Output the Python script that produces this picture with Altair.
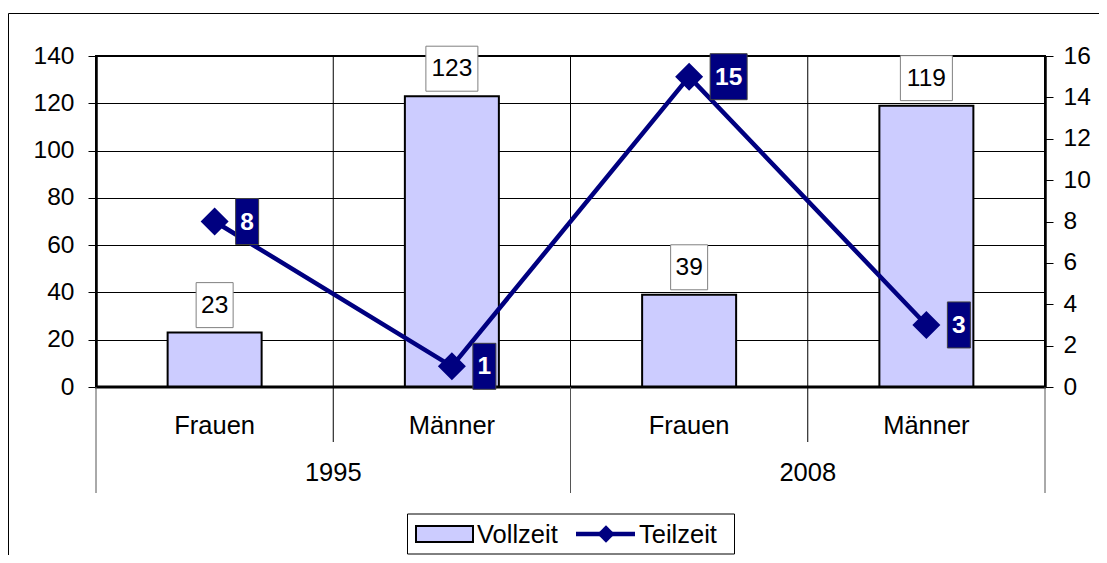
import altair as alt
import pandas as pd

# ---- data ----
categories = ["Frauen", "Männer", "Frauen", "Männer"]
years = ["1995", "1995", "2008", "2008"]
vollzeit = [23, 123, 39, 119]
teilzeit = [8, 1, 15, 3]
year_labels = ["1995", "2008"]
legend_labels = ["Vollzeit", "Teilzeit"]

FONT = "Liberation Sans"
NAVY = "#000080"
BARFILL = "#CCCCFF"
W, H = 949, 331

df = pd.DataFrame({
    "cat": categories,
    "year": years,
    "pos": [i + 0.5 for i in range(len(categories))],
    "vollzeit": vollzeit,
    "teilzeit": teilzeit,
})
df["v_lab"] = df["vollzeit"].astype(str)
df["t_lab"] = df["teilzeit"].astype(str)

years_df = pd.DataFrame({"year": year_labels, "pos": [2 * i + 1 for i in range(len(year_labels))]})
minor_sep = pd.DataFrame({"pos": [2 * i + 1 for i in range(len(year_labels))]})
major_sep = pd.DataFrame({"pos": [2 * i for i in range(len(year_labels) + 1)]})
inner_grid = pd.DataFrame({"pos": list(range(1, len(categories)))})
leg_df = pd.DataFrame({"label": legend_labels})

xs = alt.Scale(domain=[0, len(categories)], nice=False, zero=False, padding=0)
X = alt.X("pos:Q", scale=xs, axis=None)

yl_scale = alt.Scale(domain=[0, 140], nice=False)
yr_scale = alt.Scale(domain=[0, 16], nice=False)

left_axis = alt.Axis(orient="left", values=list(range(0, 141, 20)), tickSize=8,
                     tickColor="black", labelFontSize=24.5, labelFont=FONT,
                     labelColor="black", labelPadding=14, domain=True,
                     domainColor="black", domainWidth=2.5,
                     grid=True, gridColor="black", gridWidth=1, gridOpacity=1, title=None)
right_axis = alt.Axis(orient="right", values=list(range(0, 17, 2)), tickSize=8,
                      tickColor="black", labelFontSize=24.5, labelFont=FONT,
                      labelColor="black", labelPadding=10, domain=True,
                      domainColor="black", domainWidth=2.5,
                      grid=False, title=None)

base = alt.Chart(df)
one = alt.Chart(leg_df.head(1))

# outer border (decoration)
border = one.mark_rect(fill=None, stroke="black", strokeWidth=1).encode(
    x=alt.value(-87.5), x2=alt.value(W + 200), y=alt.value(-42.5), y2=alt.value(H + 300))

# thick baseline and top frame line
baseline = one.mark_rule(color="black", strokeWidth=3).encode(
    x=alt.value(-1), x2=alt.value(W + 1), y=alt.value(H))
topline = one.mark_rule(color="black", strokeWidth=2).encode(
    x=alt.value(-1), x2=alt.value(W + 1), y=alt.value(0))

# vertical gridlines inside the plot
vgrid = alt.Chart(inner_grid).mark_rule(color="black", strokeWidth=1).encode(
    x=X, y=alt.value(0), y2=alt.value(H))
# separators below the axis
minor = alt.Chart(minor_sep).mark_rule(color="black", strokeWidth=1).encode(
    x=X, y=alt.value(H), y2=alt.value(H + 55))
major = alt.Chart(major_sep).mark_rule(color="#555555", strokeWidth=1).encode(
    x=X, y=alt.value(H), y2=alt.value(H + 106))

cat_text = base.mark_text(font=FONT, fontSize=25.5, color="black", baseline="middle").encode(
    x=X, y=alt.value(H + 38.5), text="cat:N")
year_text = alt.Chart(years_df).mark_text(font=FONT, fontSize=25.5, color="black", baseline="middle").encode(
    x=X, y=alt.value(H + 86), text="year:N")

bars = base.mark_bar(size=94, fill=BARFILL, stroke="black", strokeWidth=2).encode(
    x=X, y=alt.Y("vollzeit:Q", scale=yl_scale, axis=left_axis))

def vbox(cond, half):
    return base.transform_filter(cond).mark_rect(
        fill="white", stroke="#808080", strokeWidth=1,
        xOffset=-half, x2Offset=half, yOffset=-50, y2Offset=-5).encode(
        x=X, x2="pos:Q", y=alt.Y("vollzeit:Q", scale=yl_scale), y2="vollzeit:Q")

vbox2 = vbox("datum.vollzeit < 100", 18.5)
vbox3 = vbox("datum.vollzeit >= 100", 26)
vtext = base.mark_text(font=FONT, fontSize=24.5, color="black", baseline="middle", dy=-27).encode(
    x=X, y=alt.Y("vollzeit:Q", scale=yl_scale), text="v_lab:N")

left = alt.layer(bars, vgrid, baseline, topline, vbox2, vbox3, vtext, minor, major,
                 cat_text, year_text, border)

line = base.mark_line(color=NAVY, strokeWidth=4.5).encode(
    x=X, y=alt.Y("teilzeit:Q", scale=yr_scale, axis=right_axis))
pts = base.mark_point(shape="diamond", filled=True, size=784, color=NAVY, opacity=1).encode(
    x=X, y=alt.Y("teilzeit:Q", scale=yr_scale))

def tbox(cond, w):
    return base.transform_filter(cond).mark_rect(
        fill=NAVY, stroke="#404040", strokeWidth=1,
        xOffset=21, x2Offset=21 + w, yOffset=-23, y2Offset=23).encode(
        x=X, x2="pos:Q", y=alt.Y("teilzeit:Q", scale=yr_scale), y2="teilzeit:Q")

def ttext(cond, w):
    return base.transform_filter(cond).mark_text(
        font=FONT, fontSize=24.5, fontWeight="bold", color="white", baseline="middle",
        align="center", dx=21 + w / 2, dy=1).encode(
        x=X, y=alt.Y("teilzeit:Q", scale=yr_scale), text="t_lab:N")

right = alt.layer(line, pts,
                  tbox("datum.teilzeit < 10", 23), tbox("datum.teilzeit >= 10", 37),
                  ttext("datum.teilzeit < 10", 23), ttext("datum.teilzeit >= 10", 37))

# custom legend (decoration)
LY = 478
leg_box = one.mark_rect(fill="white", stroke="black", strokeWidth=1).encode(
    x=alt.value(311.5), x2=alt.value(638.5), y=alt.value(LY - 20), y2=alt.value(LY + 20))
leg_bar = one.mark_rect(fill=BARFILL, stroke="black", strokeWidth=2).encode(
    x=alt.value(320), x2=alt.value(377), y=alt.value(LY - 8), y2=alt.value(LY + 8))
leg_line = one.mark_rule(color=NAVY, strokeWidth=4.5).encode(
    x=alt.value(480), x2=alt.value(539), y=alt.value(LY))
leg_pt = one.mark_point(shape="diamond", filled=True, size=300, color=NAVY, opacity=1).encode(
    x=alt.value(510), y=alt.value(LY))
leg_t1 = alt.Chart(leg_df.head(1)).mark_text(font=FONT, fontSize=25.5, color="black",
                                             align="left", baseline="middle").encode(
    x=alt.value(381), y=alt.value(LY + 1), text="label:N")
leg_t2 = alt.Chart(leg_df.tail(1)).mark_text(font=FONT, fontSize=25.5, color="black",
                                             align="left", baseline="middle").encode(
    x=alt.value(543), y=alt.value(LY + 1), text="label:N")

chart = alt.layer(left, right, leg_box, leg_bar, leg_line, leg_pt, leg_t1, leg_t2).resolve_scale(
    y="independent").properties(
    width=W, height=H,
    background="white",
    autosize=alt.AutoSizeParams(type="none"),
    padding={"left": 88, "top": 48, "right": 54, "bottom": 168},
).configure_view(stroke="black", strokeWidth=2)

chart.save("out.html", embed_options={"renderer": "svg", "actions": False})
